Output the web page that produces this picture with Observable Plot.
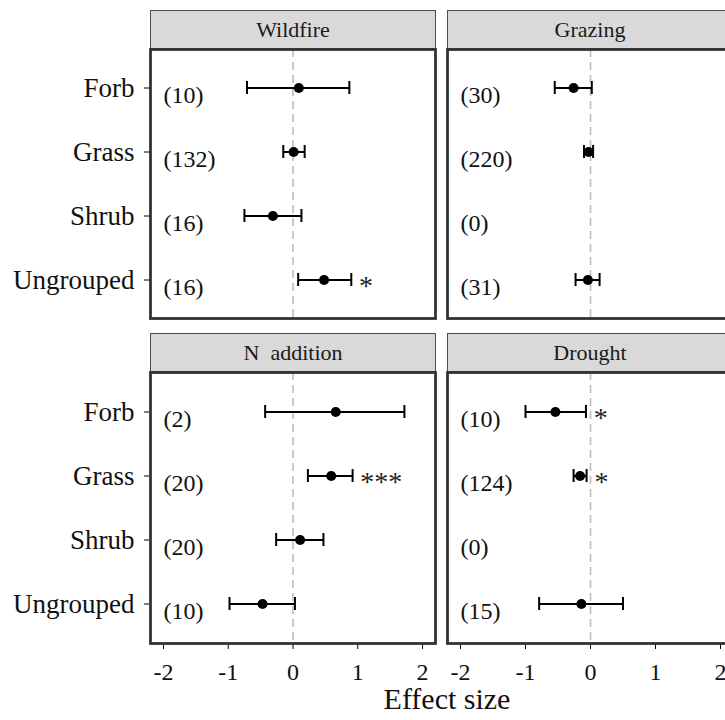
<!DOCTYPE html>
<html>
<head>
<meta charset="utf-8">
<script src="https://cdn.jsdelivr.net/npm/d3@7"></script>
<script src="https://cdn.jsdelivr.net/npm/@observablehq/plot@0.6"></script>
<style>
  html, body { margin: 0; padding: 0; background: #fff; overflow: hidden; }
  #chart { position: relative; width: 725px; height: 720px; overflow: hidden; background: #fff; font-family: "Liberation Serif", serif; }
  .panel { position: absolute; }
  .strip { position: absolute; box-sizing: border-box; height: 39px; background: #d9d9d9; border: 1.5px solid #4d4d4d;
           display: flex; align-items: center; justify-content: center; font-size: 22px; color: #1a1a1a; white-space: pre; }
  .xtitle { position: absolute; left: 447px; top: 682px; transform: translateX(-50%); font-size: 30px; color: #111; white-space: nowrap; }
  #chart [aria-label^="x-axis"] text { font-size: 24px; fill: #111; }
  #chart [aria-label^="y-axis"] text { font-size: 27px; fill: #111; }
</style>
</head>
<body>
<div id="chart"></div>
<script>
// ---- data ----
const categories = ["Forb", "Grass", "Shrub", "Ungrouped"];
const treatments = ["Wildfire", "Grazing", "N  addition", "Drought"];
const xTicks = [-2, -1, 0, 1, 2];

const wildfireMean = [0.09, 0.01, -0.31, 0.48];
const wildfireLow  = [-0.71, -0.15, -0.75, 0.08];
const wildfireHigh = [0.87, 0.18, 0.13, 0.90];
const wildfireN    = [10, 132, 16, 16];
const wildfireSig  = ["", "", "", "*"];

const grazingMean = [-0.26, -0.03, null, -0.04];
const grazingLow  = [-0.55, -0.10, null, -0.23];
const grazingHigh = [0.02, 0.04, null, 0.14];
const grazingN    = [30, 220, 0, 31];
const grazingSig  = ["", "", "", ""];

const nAdditionMean = [0.66, 0.59, 0.11, -0.47];
const nAdditionLow  = [-0.43, 0.23, -0.26, -0.98];
const nAdditionHigh = [1.72, 0.92, 0.47, 0.03];
const nAdditionN    = [2, 20, 20, 10];
const nAdditionSig  = ["", "***", "", ""];

const droughtMean = [-0.54, -0.16, null, -0.14];
const droughtLow  = [-1.00, -0.26, null, -0.79];
const droughtHigh = [-0.07, -0.06, null, 0.50];
const droughtN    = [10, 124, 0, 15];
const droughtSig  = ["*", "*", "", ""];

const series = [
  [wildfireMean, wildfireLow, wildfireHigh, wildfireN, wildfireSig],
  [grazingMean, grazingLow, grazingHigh, grazingN, grazingSig],
  [nAdditionMean, nAdditionLow, nAdditionHigh, nAdditionN, nAdditionSig],
  [droughtMean, droughtLow, droughtHigh, droughtN, droughtSig]
];

// ---- layout ----
const chart = document.getElementById("chart");
const layout = [
  {left: 0,   top: 49,  width: 435, height: 269, ml: 150, mb: 0,  yAxis: true,  xAxis: false, stripLeft: 150},
  {left: 447, top: 49,  width: 286, height: 269, ml: 0,   mb: 0,  yAxis: false, xAxis: false, stripLeft: 447},
  {left: 0,   top: 372, width: 435, height: 331, ml: 150, mb: 60, yAxis: true,  xAxis: true,  stripLeft: 150},
  {left: 447, top: 372, width: 286, height: 331, ml: 0,   mb: 60, yAxis: false, xAxis: true,  stripLeft: 447}
];
const countX = -2.0;   // where the sample-size labels start (data units)
const sigGap = 0.12;   // gap between upper CI and significance stars (data units)

treatments.forEach((t, k) => {
  const [mean, low, high, n, sig] = series[k];
  const rows = categories.map((c, i) => ({cat: c, mean: mean[i], low: low[i], high: high[i], n: n[i], sig: sig[i]}));
  const valid = rows.filter(d => d.mean != null);
  const L = layout[k];

  const strip = document.createElement("div");
  strip.className = "strip";
  strip.style.left = L.stripLeft + "px";
  strip.style.top = (L.top - 39) + "px";
  strip.style.width = "286px";
  strip.textContent = t;
  chart.appendChild(strip);

  const plot = Plot.plot({
    width: L.width,
    height: L.height,
    marginLeft: L.ml,
    marginRight: 0,
    marginTop: 0,
    marginBottom: L.mb,
    style: {fontFamily: "Liberation Serif", background: "transparent", overflow: "visible", maxWidth: "none"},
    x: {
      domain: [-2.2, 2.2],
      ticks: xTicks,
      tickFormat: d => `${d}`,
      tickSize: 6,
      tickPadding: 13,
      label: null,
      axis: L.xAxis ? "bottom" : null
    },
    y: {
      type: "band",
      domain: categories,
      paddingInner: 0.797,
      paddingOuter: 0.4985,
      tickSize: 6,
      tickPadding: 10,
      label: null,
      axis: L.yAxis ? "left" : null
    },
    marks: [
      Plot.ruleX([0], {stroke: "#bdbdbd", strokeWidth: 1.6, strokeDasharray: "8,5"}),
      Plot.ruleY(valid, {y: "cat", x1: "low", x2: "high", stroke: "#000", strokeWidth: 2}),
      Plot.tickX(valid, {x: "low", y: "cat", stroke: "#000", strokeWidth: 2}),
      Plot.tickX(valid, {x: "high", y: "cat", stroke: "#000", strokeWidth: 2}),
      Plot.dot(valid, {x: "mean", y: "cat", r: 5, fill: "#000", stroke: "none"}),
      Plot.text(rows, {x: () => countX, y: "cat", text: d => `(${d.n})`, textAnchor: "start", fontSize: 24, dy: 7, fill: "#111"}),
      Plot.text(valid.filter(d => d.sig), {x: d => d.high + sigGap, y: "cat", text: "sig", textAnchor: "start", fontSize: 28, dy: 6, fill: "#222"}),
      Plot.frame({stroke: "#333", strokeWidth: 2.8})
    ]
  });
  plot.classList.add("panel");
  plot.style.left = L.left + "px";
  plot.style.top = L.top + "px";
  chart.appendChild(plot);
});

const xt = document.createElement("div");
xt.className = "xtitle";
xt.textContent = "Effect size";
chart.appendChild(xt);
</script>
</body>
</html>
